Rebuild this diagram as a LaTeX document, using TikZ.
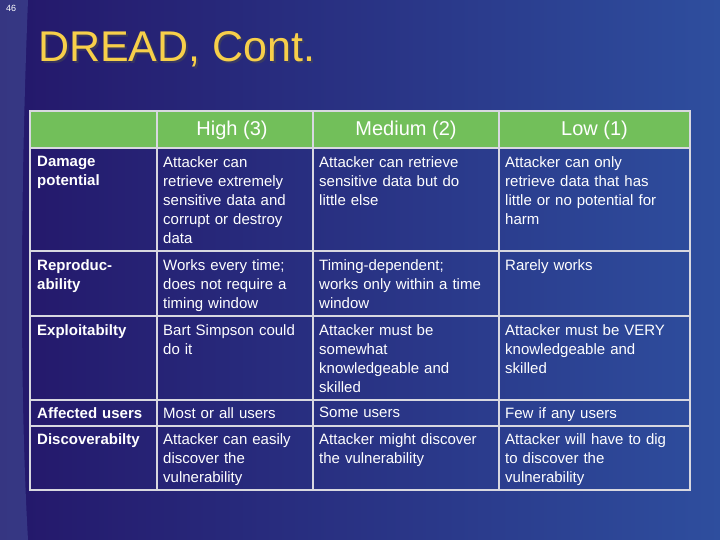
\documentclass[tikz,border=0pt]{standalone}
\usepackage{fontspec}
\setmainfont{Liberation Sans}
\definecolor{bgA}{HTML}{24176A}
\definecolor{bgB}{HTML}{2E4E9E}
\definecolor{hdr}{HTML}{72BF5A}
\definecolor{ttl}{HTML}{F7CF4A}
\definecolor{grid}{HTML}{D8D8E0}
\begin{document}
\begin{tikzpicture}[x=1pt,y=-1pt,
  cell/.style={anchor=north west,align=left,text=white,font=\fontsize{15}{19}\selectfont,inner sep=0pt},
  rowhead/.style={cell,font=\fontsize{15}{19}\selectfont\bfseries},
  colhead/.style={anchor=center,text=white,font=\fontsize{20}{24}\selectfont,inner sep=0pt}]
\useasboundingbox (0,0) rectangle (720,540);
\shade[left color=bgA,right color=bgB] (0,0) rectangle (720,540);
\fill[bgB!80!white,opacity=0.35] (0,0) -- (28,0) .. controls (20,200) and (20,400) .. (28,540) -- (0,540) -- cycle;
\node[anchor=north west,text=white,font=\fontsize{9}{10}\selectfont,inner sep=0pt] (num) at (6,5) {46};
\node[anchor=west,text=black!70,opacity=0.5,font=\fontsize{43}{50}\selectfont,inner sep=0pt] (titlesh) at (40,51) {DREAD, Cont.};
\node[anchor=west,text=ttl,font=\fontsize{43}{50}\selectfont,inner sep=0pt] (title) at (38,49) {DREAD, Cont.};
\fill[hdr] (30,111) rectangle (690,148);
\draw[grid,line width=2pt] (30,111) rectangle (690,490);
\foreach \x in {157,313,499} \draw[grid,line width=1.2pt] (\x,111) -- (\x,490);
\foreach \y in {148,251,316,400,426} \draw[grid,line width=1.2pt] (30,\y) -- (690,\y);
\node[colhead] (h1) at (232,130) {High (3)};
\node[colhead] (h2) at (406,130) {Medium (2)};
\node[colhead] (h3) at (594.5,130) {Low (1)};
\node[rowhead,text width=118pt] (r1) at (37,156) {Damage\\potential};
\node[cell,text width=145pt] (c11) at (163,156) {Attacker can\\retrieve extremely\\sensitive data and\\corrupt or destroy\\data};
\node[cell,text width=175pt] (c12) at (319,156) {Attacker can retrieve\\sensitive data but do\\little else};
\node[cell,text width=180pt] (c13) at (505,156) {Attacker can only\\retrieve data that has\\little or no potential for\\harm};
\node[rowhead,text width=118pt] (r2) at (37,259) {Reproduc-\\ability};
\node[cell,text width=145pt] (c21) at (163,259) {Works every time;\\does not require a\\timing window};
\node[cell,text width=175pt] (c22) at (319,259) {Timing-dependent;\\works only within a time\\window};
\node[cell,text width=180pt] (c23) at (505,259) {Rarely works};
\node[rowhead,text width=118pt] (r3) at (37,324) {Exploitabilty};
\node[cell,text width=145pt] (c31) at (163,324) {Bart Simpson could\\do it};
\node[cell,text width=175pt] (c32) at (319,324) {Attacker must be\\somewhat\\knowledgeable and\\skilled};
\node[cell,text width=180pt] (c33) at (505,324) {Attacker must be VERY\\knowledgeable and\\skilled};
\node[rowhead,text width=124pt] (r4) at (37,407) {Affected users};
\node[cell,text width=145pt] (c41) at (163,407) {Most or all users};
\node[cell,text width=175pt] (c42) at (319,407) {Some users};
\node[cell,text width=180pt] (c43) at (505,407) {Few if any users};
\node[rowhead,text width=124pt] (r5) at (37,433) {Discoverabilty};
\node[cell,text width=145pt] (c51) at (163,433) {Attacker can easily\\discover the\\vulnerability};
\node[cell,text width=175pt] (c52) at (319,433) {Attacker might discover\\the vulnerability};
\node[cell,text width=180pt] (c53) at (505,433) {Attacker will have to dig\\to discover the\\vulnerability};
\end{tikzpicture}
\end{document}
